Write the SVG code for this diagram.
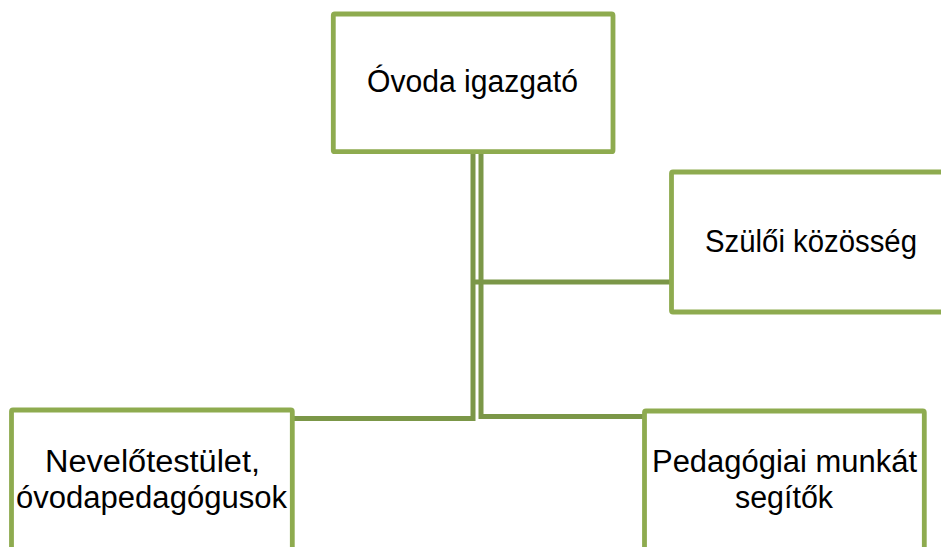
<svg xmlns="http://www.w3.org/2000/svg" width="941" height="547" viewBox="0 0 941 547">
  <style>
    .box { fill: #ffffff; stroke: #8eab4f; stroke-width: 4.8; }
    .conn { fill: none; stroke: #7b9748; stroke-width: 5; stroke-linejoin: miter; }
    .lbl { font-family: "Liberation Sans", Arial, sans-serif; font-size: 31px; fill: #000000; }
  </style>
  <rect x="0" y="0" width="941" height="547" fill="#ffffff"/>
  <g id="connectors">
    <path class="conn" d="M473,153 V418.5 H293"/>
    <path class="conn" d="M481,153 V416.5 H644"/>
    <path class="conn" d="M473,282 H671"/>
  </g>
  <g id="node-igazgato">
    <rect class="box" x="333.3" y="14" width="279.7" height="137.7" rx="1.5"/>
    <text class="lbl" x="367" y="91.5" textLength="211" lengthAdjust="spacingAndGlyphs">Óvoda igazgató</text>
  </g>
  <g id="node-szuloi">
    <rect class="box" x="671.5" y="172" width="290" height="140" rx="1.5"/>
    <text class="lbl" x="705" y="251.7" textLength="212" lengthAdjust="spacingAndGlyphs">Szülői közösség</text>
  </g>
  <g id="node-nevelo">
    <rect class="box" x="11.5" y="410" width="280.8" height="160" rx="1.5"/>
    <text class="lbl" x="45" y="471.7" textLength="215" lengthAdjust="spacingAndGlyphs">Nevelőtestület,</text>
    <text class="lbl" x="16" y="508.3" textLength="271" lengthAdjust="spacingAndGlyphs">óvodapedagógusok</text>
  </g>
  <g id="node-pedagogiai">
    <rect class="box" x="644.5" y="411" width="279.8" height="160" rx="1.5"/>
    <text class="lbl" x="652" y="471.7" textLength="265" lengthAdjust="spacingAndGlyphs">Pedagógiai munkát</text>
    <text class="lbl" x="735" y="508.3" textLength="98" lengthAdjust="spacingAndGlyphs">segítők</text>
  </g>
</svg>
